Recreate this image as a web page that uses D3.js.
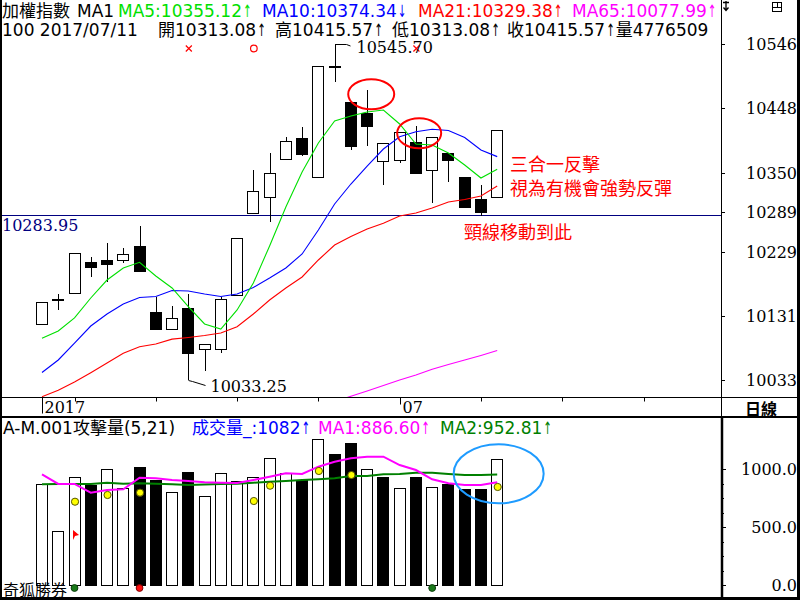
<!DOCTYPE html>
<html>
<head>
<meta charset="utf-8">
<script src="https://cdn.jsdelivr.net/npm/d3@7/dist/d3.min.js"></script>
<style>
html,body{margin:0;padding:0;background:#fff;}
svg{display:block;}
</style>
</head>
<body>
<svg id="chart" width="800" height="600"></svg>
<script>
// ---------------- data ----------------
const opens  = [10118.1,10157.5,10165.5,10212.9,10216.4,10216.4,10237.8,10137.4,10110.5,10143.5,10079.9,10079.9,10162.9,10287.7,10313.1,10370.3,10402.4,10342.8,10513.5,10458.3,10441.5,10367.7,10369.2,10397.2,10353.9,10379.4,10342.8,10309.1,10313.08];
const highs  = [10152.7,10164.4,10226.6,10220.5,10241.9,10234.3,10268.3,10159.4,10146.1,10164.4,10088.0,10160.3,10249.5,10353.9,10379.4,10403.9,10420.1,10512.8,10545.70,10458.3,10476.2,10394.7,10412.0,10421.2,10403.9,10379.4,10342.8,10331.0,10415.57];
const lows   = [10118.1,10140.0,10165.5,10190.9,10183.2,10211.3,10197.6,10110.5,10110.5,10033.25,10047.2,10073.8,10162.9,10287.7,10274.9,10369.2,10375.3,10342.8,10488.8,10384.5,10391.0,10331.0,10364.2,10348.9,10304.0,10336.0,10295.4,10283.95,10313.08];
const closes = [10152.7,10156.8,10226.6,10206.1,10210.3,10225.6,10200.0,10110.5,10127.3,10073.8,10088.0,10156.8,10249.5,10322.3,10348.9,10398.2,10377.9,10512.8,10513.0,10391.0,10421.6,10394.7,10412.0,10348.9,10403.9,10369.2,10297.8,10290.2,10415.57];

const ma5  = [10096.7,10107.9,10127.8,10158.3,10185.8,10204.2,10212.9,10191.9,10173.6,10145.0,10118.6,10110.9,10140.0,10181.2,10237.8,10297.4,10350.9,10395.2,10428.8,10436.4,10442.5,10445.6,10424.2,10393.6,10392.1,10379.9,10361.6,10341.7,10355.12];
const ma10 = [10044.5,10063.6,10089.5,10115.5,10133.9,10149.1,10159.1,10160.6,10169.8,10169.0,10164.4,10160.6,10164.4,10174.4,10188.9,10204.2,10225.6,10262.2,10302.0,10332.5,10360.0,10386.0,10404.8,10412.4,10416.1,10414.3,10403.6,10384.5,10374.34];
const ma21 = [10007.5,10017.3,10030.0,10044.2,10059.0,10073.8,10083.9,10088.0,10095.4,10098.0,10101.0,10104.8,10114.5,10133.9,10155.3,10173.6,10190.4,10216.4,10239.3,10252.3,10263.8,10272.5,10283.6,10288.2,10295.9,10305.0,10308.8,10314.2,10329.38];
const ma65 = [null,null,null,null,null,null,null,null,null,null,null,null,null,null,null,null,null,null,10000.0,10008.1,10016.2,10024.6,10033.0,10040.7,10049.4,10056.7,10063.6,10070.5,10077.99];

const volumes = [868,466,928,862,1000,834,1020,905,799,974,767,963,897,928,1092,966,905,1259,1129,1222,997,934,834,934,845,868,828,828,1082];
const volUp   = [1,1,1,0,1,1,0,0,1,0,1,1,1,1,1,1,0,1,0,0,1,0,1,0,1,0,0,0,1];
const volMa1  = [954,871,871,796,819,825,925,920,905,897,885,882,879,905,934,963,957,1020,1063,1092,1106,1106,1034,991,911,877,862,862,886.60];
const volMa2  = [868,871,871,871,882,873,877,873,868,862,866,871,873,882,891,897,905,911,920,940,940,954,957,968,968,957,948,948,952.81];
const yellowDots = [[2,718],[4,776],[6,796],[13,724],[14,856],[17,983],[19,948],[28,845]];
const bottomDots = [[2,"g"],[6,"r"],[24,"g"]];
const flagMark = [2,431];

const signals = [[9,"x"],[13,"o"],[23,"x"]];
const priceTicks = [10546,10448,10350,10289,10229,10131,10033];
const volTicksMajor = [0,500,1000];
const volTicksMinor = [125,250,375,625,750,875];
const dateTicks = [0,2,7,12,17,22,27,32,37];
const dateLabels = {0:"2017",22:"07"};
const neckline = 10283.95;
const lastVolume = 4776509;
const lastDate = "2017/07/11";

// ---------------- drawing ----------------
const svg = d3.select("#chart");
const SANS = "'DejaVu Sans','Noto Sans CJK TC',sans-serif";
const SERIF = "'DejaVu Serif','Noto Sans CJK TC',serif";
const CJK = "'Noto Sans CJK TC','Noto Sans CJK SC',sans-serif";
const GREEN = "#00e000", BLUE = "#0000ff", RED = "#ff0000", MAG = "#ff00ff", DKGREEN = "#008000";
const PR = 721;

const x  = d3.scaleLinear().domain([0, 28]).range([42, 497.2]);
const y  = d3.scaleLinear().domain([10033, 10546]).range([380, 44.3]);
const yv = d3.scaleLinear().domain([0, 1000]).range([585, 469]);
const px = i => Math.round(x(i));

svg.append("rect").attr("width",800).attr("height",600).attr("fill","#fff");
const defs = svg.append("defs");
defs.append("clipPath").attr("id","mainClip").append("rect").attr("x",1).attr("y",0).attr("width",PR-1).attr("height",397);
defs.append("clipPath").attr("id","volClip").append("rect").attr("x",1).attr("y",418).attr("width",PR-1).attr("height",180);

const main = svg.append("g").attr("clip-path","url(#mainClip)");

// neckline
main.append("line").attr("x1",0).attr("x2",PR)
  .attr("y1",Math.floor(y(neckline))+0.5).attr("y2",Math.floor(y(neckline))+0.5)
  .attr("stroke","#000080").attr("stroke-width",1);

// candles
const candles = d3.range(opens.length).map(i => ({i, o:opens[i], h:highs[i], l:lows[i], c:closes[i]}));
const cg = main.append("g");
cg.selectAll("line.wick").data(candles).join("line").attr("class","wick")
  .attr("x1",d=>px(d.i)+0.5).attr("x2",d=>px(d.i)+0.5)
  .attr("y1",d=>Math.round(y(d.h))).attr("y2",d=>Math.round(y(d.l)))
  .attr("stroke","#000").attr("stroke-width",1);
cg.selectAll("rect.body").data(candles).join("rect").attr("class","body")
  .attr("x",d=>px(d.i)-5.5).attr("width",11)
  .attr("y",d=>Math.round(y(Math.max(d.o,d.c)))+0.5)
  .attr("height",d=>Math.max(1, Math.round(y(Math.min(d.o,d.c))) - Math.round(y(Math.max(d.o,d.c)))))
  .attr("fill",d=>d.c>=d.o?"#fff":"#000").attr("stroke","#000").attr("stroke-width",1);

// moving averages
const maLine = d3.line().defined(v=>v!=null).x((v,i)=>x(i)).y(v=>y(v));
[[ma65,MAG],[ma21,RED],[ma10,BLUE],[ma5,GREEN]].forEach(([arr,col])=>{
  main.append("path").attr("d",maLine(arr)).attr("fill","none").attr("stroke",col).attr("stroke-width",1.1);
});

// signals row
signals.forEach(([i,t])=>{
  const cx = x(i)+0.5, cy = 48.5;
  if (t==="x") {
    svg.append("path").attr("d",`M${cx-3},${cy-3}L${cx+3},${cy+3}M${cx+3},${cy-3}L${cx-3},${cy+3}`).attr("stroke",RED).attr("stroke-width",1.2);
  } else {
    svg.append("circle").attr("cx",cx).attr("cy",cy).attr("r",3.3).attr("fill","none").attr("stroke",RED).attr("stroke-width",1.2);
  }
});

// max / min leaders
const iMax = d3.maxIndex(highs), iMin = d3.minIndex(lows);
{
  const mx = px(iMax)+0.5, my = Math.round(y(highs[iMax]))+0.5;
  svg.append("path").attr("d",`M${mx},${my+4}L${mx},${my}L${mx+11},${my}L${mx+15},${my+1.5}`).attr("fill","none").attr("stroke","#000");
  svg.append("text").attr("x",mx+21).attr("y",my+8.5).attr("font-family",SERIF).attr("font-size",16).attr("fill","#000").text(highs[iMax].toFixed(2));
  const nx = px(iMin)+0.5, ny = Math.round(y(lows[iMin]))+0.5;
  svg.append("path").attr("d",`M${nx},${ny}L${nx+4},${ny+1}L${nx+17},${ny+5}`).attr("fill","none").attr("stroke","#000");
  svg.append("text").attr("x",nx+22).attr("y",ny+11.5).attr("font-family",SERIF).attr("font-size",16).attr("fill","#000").text(lows[iMin].toFixed(2));
}

// neckline label
svg.append("text").attr("x",2).attr("y",Math.floor(y(neckline))+16).attr("font-family",SERIF).attr("font-size",16).attr("fill","#000080").text(neckline.toFixed(2));

// red ellipses
svg.append("ellipse").attr("cx",x(20.25)).attr("cy",y(10469.6)).attr("rx",23).attr("ry",15).attr("fill","none").attr("stroke",RED).attr("stroke-width",2);
svg.append("ellipse").attr("cx",x(23.2)).attr("cy",y(10410)).attr("rx",22).attr("ry",15).attr("fill","none").attr("stroke",RED).attr("stroke-width",2);

// red annotation text
const ann = [["三合一反擊",510,171],["視為有機會強勢反彈",510,195],["頸線移動到此",464,239]];
ann.forEach(([t,ax,ay])=>svg.append("text").attr("x",ax).attr("y",ay).attr("font-family",CJK).attr("font-size",18).attr("fill",RED).text(t));

// ---------------- header texts ----------------
function seq(items, yy, size){
  items.forEach(it=>{
    let cur = it.x;
    it.parts.forEach(([t,col])=>{
      const isArrow = /^[↑↓]$/.test(t);
      if (isArrow) {
        const el = svg.append("text").attr("x",0).attr("y",0)
          .attr("transform",`translate(${cur+1},${yy}) scale(0.6,1)`)
          .attr("font-family",SANS).attr("font-size",size).attr("fill",col).text(t);
        cur += el.node().getComputedTextLength()*0.6 + 2;
      } else {
        const el = svg.append("text").attr("x",cur).attr("y",yy)
          .attr("font-family",SANS).attr("font-size",size).attr("fill",col).text(t);
        cur += el.node().getComputedTextLength();
      }
    });
  });
}
const L = a => a[a.length-1];
seq([
  {x:2, parts:[["加權指數","#000"]]},
  {x:77, parts:[["MA1","#000"]]},
  {x:118, parts:[["MA5:"+L(ma5).toFixed(2),GREEN],["↑",GREEN]]},
  {x:262, parts:[["MA10:"+L(ma10).toFixed(2),BLUE],["↓",BLUE]]},
  {x:418, parts:[["MA21:"+L(ma21).toFixed(2),RED],["↑",RED]]},
  {x:572, parts:[["MA65:"+L(ma65).toFixed(2),MAG],["↑",MAG]]}
], 17, 17);
seq([
  {x:2, parts:[["100 "+lastDate,"#000"]]},
  {x:158, parts:[["開"+L(opens).toFixed(2),"#000"],["↑","#000"]]},
  {x:275, parts:[["高"+L(highs).toFixed(2),"#000"],["↑","#000"]]},
  {x:392, parts:[["低"+L(lows).toFixed(2),"#000"],["↑","#000"]]},
  {x:507, parts:[["收"+L(closes).toFixed(2),"#000"],["↑","#000"],["量"+lastVolume,"#000"]]}
], 35.5, 17);

// ---------------- right price axis ----------------
const ax = svg.append("g");
priceTicks.forEach(v=>{
  const ty = Math.round(y(v))+0.5;
  ax.append("line").attr("x1",PR).attr("x2",PR+4).attr("y1",ty).attr("y2",ty).attr("stroke","#000");
  ax.append("text").attr("x",797).attr("y",ty+5.5).attr("text-anchor","end").attr("font-family",SERIF).attr("font-size",16).attr("fill","#000").text(v);
});

// ---------------- date band ----------------
svg.append("line").attr("x1",0).attr("x2",800).attr("y1",397.5).attr("y2",397.5).attr("stroke","#000");
dateTicks.forEach(i=>{
  const tx = px(i)+0.5;
  const len = dateLabels[i]!==undefined ? (i===0?16:7) : 4;
  svg.append("line").attr("x1",tx).attr("x2",tx).attr("y1",397.5).attr("y2",397.5+len).attr("stroke","#000");
  if (dateLabels[i]!==undefined)
    svg.append("text").attr("x",tx+2).attr("y",413).attr("font-family",SERIF).attr("font-size",16).attr("fill","#000").text(dateLabels[i]);
});
svg.append("text").attr("x",761).attr("y",415).attr("text-anchor","middle").attr("font-family",CJK).attr("font-size",16).attr("font-weight","bold").attr("fill","#000").text("日線");
svg.append("line").attr("x1",0).attr("x2",800).attr("y1",417).attr("y2",417).attr("stroke","#000").attr("stroke-width",2);

// ---------------- volume panel ----------------
const vol = svg.append("g").attr("clip-path","url(#volClip)");
const vd = volumes.map((v,i)=>({i,v,up:volUp[i]}));
vol.selectAll("rect.vb").data(vd).join("rect").attr("class","vb")
  .attr("x",d=>px(d.i)-5.5).attr("width",11)
  .attr("y",d=>Math.round(yv(d.v))+0.5)
  .attr("height",d=>Math.round(yv(0))-Math.round(yv(d.v)))
  .attr("fill",d=>d.up?"#fff":"#000").attr("stroke","#000");
const vLine = d3.line().x((v,i)=>x(i)).y(v=>yv(v));
vol.append("path").attr("d",vLine(volMa2)).attr("fill","none").attr("stroke",DKGREEN).attr("stroke-width",2);
vol.append("path").attr("d",vLine(volMa1)).attr("fill","none").attr("stroke",MAG).attr("stroke-width",2);
vol.selectAll("circle.yd").data(yellowDots).join("circle").attr("class","yd")
  .attr("cx",d=>x(d[0])+0.5).attr("cy",d=>yv(d[1])).attr("r",3.6)
  .attr("fill","#ffff00").attr("stroke","#555500").attr("stroke-width",1);
vol.selectAll("circle.bd").data(bottomDots).join("circle").attr("class","bd")
  .attr("cx",d=>x(d[0])).attr("cy",yv(0)+3).attr("r",3.4)
  .attr("fill",d=>d[1]==="g"?"#1a7a1a":"#ff1010").attr("stroke",d=>d[1]==="g"?"#0b3d0b":"#800000").attr("stroke-width",1);
{
  const fx = x(flagMark[0])-1.5, fy = yv(flagMark[1]);
  vol.append("path").attr("d",`M${fx},${fy-5}L${fx+6},${fy}L${fx+2},${fy+1}L${fx},${fy+5}Z`).attr("fill",RED);
}
svg.append("ellipse").attr("cx",x(28.09)).attr("cy",yv(958.6)).attr("rx",45).attr("ry",29.5).attr("fill","none").attr("stroke","#1e9bff").attr("stroke-width",2);

// volume title
seq([
  {x:3, parts:[["A-M.001攻擊量(5,21)","#000"]]},
  {x:192, parts:[["成交量_:"+L(volumes),BLUE],["↑",BLUE]]},
  {x:318, parts:[["MA1:"+L(volMa1).toFixed(2),MAG],["↑",MAG]]},
  {x:440, parts:[["MA2:"+L(volMa2).toFixed(2),DKGREEN],["↑",DKGREEN]]}
], 434, 17);
svg.append("text").attr("x",3).attr("y",596).attr("font-family",CJK).attr("font-size",16).attr("fill","#000").text("奇狐勝券");

// volume axis
volTicksMajor.forEach(v=>{
  const ty = Math.round(yv(v))+0.5;
  svg.append("line").attr("x1",PR).attr("x2",PR+5).attr("y1",ty).attr("y2",ty).attr("stroke","#000");
  svg.append("text").attr("x",797).attr("y",ty+5.5).attr("text-anchor","end").attr("font-family",SERIF).attr("font-size",16).attr("fill","#000").text(v.toFixed(1));
});
volTicksMinor.forEach(v=>{
  const ty = Math.round(yv(v))+0.5;
  svg.append("line").attr("x1",PR).attr("x2",PR+3).attr("y1",ty).attr("y2",ty).attr("stroke","#000");
});

// ---------------- frame ----------------
svg.append("line").attr("x1",PR+0.5).attr("x2",PR+0.5).attr("y1",0).attr("y2",417).attr("stroke","#000");
svg.append("line").attr("x1",PR+1).attr("x2",PR+1).attr("y1",417).attr("y2",600).attr("stroke","#000").attr("stroke-width",2.5);
svg.append("line").attr("x1",1).attr("x2",1).attr("y1",0).attr("y2",600).attr("stroke","#000").attr("stroke-width",2);
svg.append("line").attr("x1",798.5).attr("x2",798.5).attr("y1",0).attr("y2",600).attr("stroke","#000").attr("stroke-width",3);
svg.append("line").attr("x1",0).attr("x2",800).attr("y1",598.5).attr("y2",598.5).attr("stroke","#000").attr("stroke-width",3);
// small icons top-right
svg.append("rect").attr("x",772.5).attr("y",2.5).attr("width",9).attr("height",9).attr("fill","none").attr("stroke","#000");
svg.append("path").attr("d","M772.5,7.5H781.5M777.5,2.5V7.5").attr("stroke","#000").attr("fill","none");
svg.append("path").attr("d","M723,2.5H729M726,1V10M723.5,7.5L726,10.5L728.5,7.5").attr("stroke","#000").attr("fill","none").attr("stroke-width",1.3);
</script>
</body>
</html>
